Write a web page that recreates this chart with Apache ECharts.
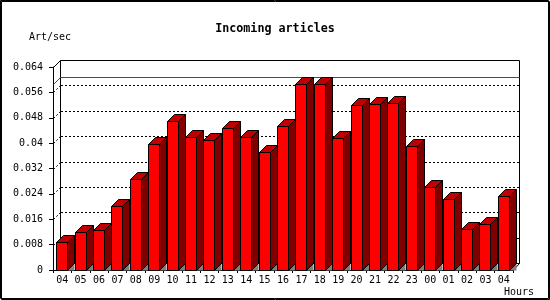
<!DOCTYPE html>
<html>
<head>
<meta charset="utf-8">
<script src="https://cdn.jsdelivr.net/npm/echarts@6/dist/echarts.min.js"></script>
<style>
  html, body { margin: 0; padding: 0; background: #fff; }
  #chart { width: 550px; height: 300px; }
</style>
</head>
<body>
<div id="chart"></div>
<script>
const hours = ['04','05','06','07','08','09','10','11','12','13','14','15','16','17','18','19','20','21','22','23','00','01','02','03','04'];
const artPerSec = [0.0088,0.0120,0.0126,0.0202,0.0287,0.0397,0.0470,0.0419,0.0410,0.0448,0.0419,0.0372,0.0454,0.0586,0.0586,0.0416,0.0520,0.0523,0.0527,0.0391,0.0262,0.0224,0.0129,0.0145,0.0233];
const yTickLabels = ['0','0.008','0.016','0.024','0.032','0.04','0.048','0.056','0.064'];
const yStep = 0.008;
const yMax = 0.064;
const gridValues = [0.008,0.016,0.024,0.032,0.040,0.048,0.056];
const maxValue = Math.max.apply(null, artPerSec);

const DX = 7, DY = 7;
const FONT = "'DejaVu Sans Mono', 'Liberation Mono', monospace";

const chart = echarts.init(document.getElementById('chart'), null, { renderer: 'canvas' });

function frameItem(params, api) {
  const cs = params.coordSys;
  const fl = Math.round(cs.x) + 0.5;
  const fr = Math.round(cs.x + cs.width);
  const ft = Math.round(cs.y);
  const fb = Math.round(cs.y + cs.height) + 0.5;
  const L = fl + DX, R = fr + DX - 0.5, T = ft - DY + 0.5, B = fb - DY;
  const st = { stroke: '#000', lineWidth: 1, fill: null };
  return {
    type: 'group',
    children: [
      { type: 'rect', shape: { x: L, y: T, width: R - L, height: B - T }, style: { stroke: '#000', lineWidth: 1, fill: '#fff' } },
      { type: 'line', shape: { x1: fl, y1: ft + 0.5, x2: L, y2: T }, style: st },
      { type: 'line', shape: { x1: fr, y1: fb, x2: R, y2: B }, style: st }
    ]
  };
}

function gridItem(params, api) {
  const cs = params.coordSys;
  const v = api.value(0);
  const p = api.coord([0, v]);
  const y = Math.round(p[1]) + 0.5;
  const fl = Math.round(cs.x) + 0.5;
  const L = Math.round(cs.x) + DX + 1;
  const R = Math.round(cs.x + cs.width) + DX - 1;
  const st = { stroke: '#000', lineWidth: 1, lineDash: [2, 2], fill: null };
  return {
    type: 'group',
    children: [
      { type: 'line', shape: { x1: fl, y1: y, x2: fl + DX, y2: y - DY }, style: st },
      { type: 'line', shape: { x1: L, y1: y - DY, x2: R, y2: y - DY }, style: st }
    ]
  };
}

function maxLineItem(params, api) {
  const cs = params.coordSys;
  const v = api.value(0);
  const p = api.coord([0, v]);
  const y = Math.round(p[1]) + 0.5;
  const fl = Math.round(cs.x) + 0.5;
  const L = fl + DX;
  const R = Math.round(cs.x + cs.width) + DX - 0.5;
  return {
    type: 'polyline',
    shape: { points: [[fl, y], [L, y - DY], [R, y - DY]] },
    style: { stroke: '#ff0000', lineWidth: 1, fill: 'none' }
  };
}

function barItem(params, api) {
  const i = api.value(0), v = api.value(1);
  const b = api.coord([i, 0]);
  const t = api.coord([i, v]);
  const x0 = Math.round(b[0] - 6) + 0.5;
  const w = 11;
  const yb = Math.round(b[1]) + 0.5;
  const yt = Math.round(t[1]) + 0.5;
  const blk = '#000';
  return {
    type: 'group',
    children: [
      { type: 'polygon', shape: { points: [[x0 + w, yb], [x0 + w + DX, yb - DY], [x0 + w + DX, yb]] }, style: { fill: '#808080', stroke: null } },
      { type: 'polygon', shape: { points: [[x0 + w, yt], [x0 + w + DX, yt - DY], [x0 + w + DX, yb - DY], [x0 + w, yb]] }, style: { fill: '#800000', stroke: blk, lineWidth: 1 } },
      { type: 'polygon', shape: { points: [[x0, yt], [x0 + DX, yt - DY], [x0 + w + DX, yt - DY], [x0 + w, yt]] }, style: { fill: '#c00000', stroke: blk, lineWidth: 1 } },
      { type: 'rect', shape: { x: x0, y: yt, width: w, height: yb - yt }, style: { fill: '#ff0000', stroke: blk, lineWidth: 1 } }
    ]
  };
}

const option = {
  animation: false,
  backgroundColor: '#fff',
  title: {
    text: 'Incoming articles',
    left: 'center',
    top: 18,
    textStyle: { fontFamily: FONT, fontWeight: 'bold', fontSize: 11.7, color: '#000' }
  },
  grid: { left: 53, top: 67, width: 460, height: 203 },
  xAxis: {
    type: 'category',
    data: hours,
    boundaryGap: true,
    axisLine: { show: true, lineStyle: { color: '#000', width: 1 } },
    axisTick: { show: true, length: 3, lineStyle: { color: '#000' } },
    axisLabel: { margin: 5, color: '#000', fontFamily: FONT, fontSize: 10, interval: 0 },
    splitLine: { show: false }
  },
  yAxis: {
    type: 'value',
    min: 0, max: yMax, interval: yStep,
    axisLine: { show: true, lineStyle: { color: '#000', width: 1 } },
    axisTick: { show: true, length: 4, lineStyle: { color: '#000' } },
    axisLabel: {
      margin: 10, color: '#000', fontFamily: FONT, fontSize: 10,
      formatter: function (v) { return yTickLabels[Math.round(v / yStep)]; }
    },
    splitLine: { show: false }
  },
  graphic: [
    { type: 'rect', shape: { x: 0.5, y: 0.5, width: 548, height: 298 }, style: { fill: null, stroke: '#000', lineWidth: 1 }, z: 100 },
    { type: 'rect', shape: { x: 1.5, y: 1.5, width: 548, height: 298 }, style: { fill: null, stroke: '#000', lineWidth: 1 }, z: 100 },
    { type: 'text', left: 29, top: 32, style: { text: 'Art/sec', font: "10px 'DejaVu Sans Mono'", fill: '#000' } },
    { type: 'text', left: 504, top: 287, style: { text: 'Hours', font: "10px 'DejaVu Sans Mono'", fill: '#000' } }
  ],
  series: [
    { type: 'custom', z: 1, clip: false, silent: true, renderItem: frameItem, data: [[0, yMax]], encode: { x: 0, y: 1 } },
    { type: 'custom', z: 2, clip: false, silent: true, renderItem: gridItem, data: gridValues.map(function (v) { return [v]; }), encode: { y: 0 } },
    { type: 'custom', z: 3, clip: false, silent: true, renderItem: maxLineItem, data: [[maxValue]], encode: { y: 0 } },
    { type: 'custom', z: 4, clip: false, silent: true, renderItem: barItem, data: artPerSec.map(function (v, i) { return [i, v]; }), encode: { x: 0, y: 1 } }
  ]
};
chart.setOption(option);
</script>
</body>
</html>
